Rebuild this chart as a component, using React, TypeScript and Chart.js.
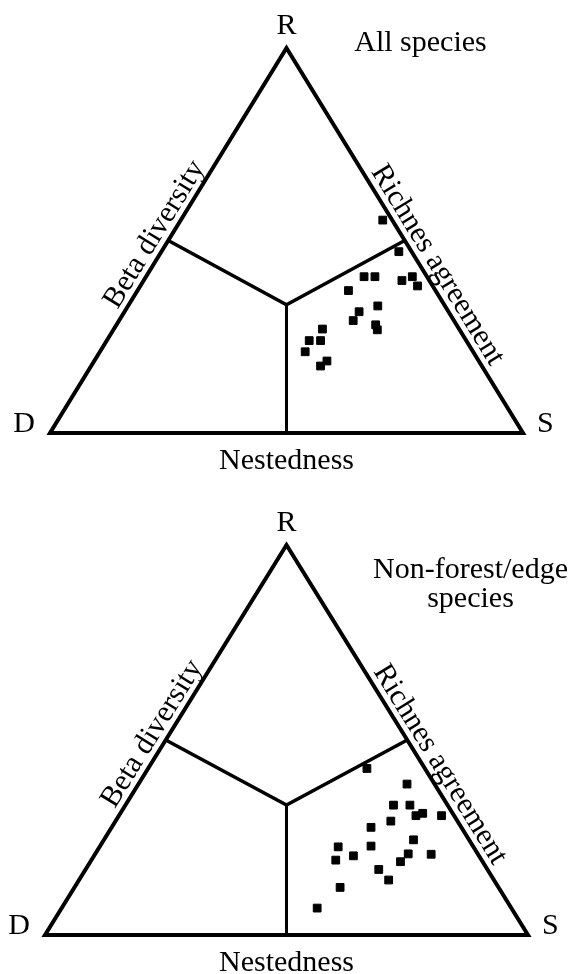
import React, { useEffect, useRef } from "react";
import { Chart, registerables } from "chart.js";

Chart.register(...registerables);

// Vertex and side labels of the ternary diagram
const vertexLabels = ["D", "R", "S"];
const bottomSideLabel = "Nestedness";
const leftSideLabel = "Beta diversity";
const rightSideLabel = "Richnes agreement";

// Panel 1: All species (relative shares D, R, S for each site pair)
const allTitle = ["All species"];
const allR = [0.553, 0.471, 0.406, 0.406, 0.396, 0.406, 0.382, 0.370, 0.315, 0.292, 0.330, 0.281, 0.268, 0.270, 0.240, 0.240, 0.211, 0.187, 0.174];
const allS = [0.427, 0.502, 0.461, 0.484, 0.546, 0.563, 0.586, 0.446, 0.496, 0.495, 0.528, 0.548, 0.558, 0.441, 0.428, 0.452, 0.434, 0.492, 0.485];
const allD = [0.020, 0.027, 0.133, 0.110, 0.058, 0.031, 0.032, 0.184, 0.189, 0.213, 0.142, 0.171, 0.174, 0.289, 0.332, 0.308, 0.355, 0.321, 0.341];

// Panel 2: Non-forest/edge species
const nfTitle = ["Non-forest/edge", "species"];
const nfR = [0.427, 0.387, 0.333, 0.333, 0.306, 0.312, 0.306, 0.292, 0.276, 0.244, 0.228, 0.226, 0.203, 0.192, 0.208, 0.188, 0.207, 0.168, 0.141, 0.122, 0.069];
const nfS = [0.453, 0.556, 0.555, 0.589, 0.615, 0.626, 0.668, 0.570, 0.537, 0.641, 0.561, 0.494, 0.537, 0.506, 0.648, 0.642, 0.696, 0.607, 0.641, 0.550, 0.529];
const nfD = [0.120, 0.057, 0.112, 0.078, 0.079, 0.062, 0.026, 0.138, 0.187, 0.115, 0.211, 0.280, 0.260, 0.302, 0.144, 0.170, 0.097, 0.225, 0.218, 0.328, 0.402];

const FONT = '30px "Liberation Serif", "Times New Roman", serif';

type Tern = [number, number, number]; // D, R, S
function toXY(t: Tern) {
  const sum = t[0] + t[1] + t[2];
  const r = t[1] / sum;
  const s = t[2] / sum;
  return { x: s + r / 2, y: r };
}

const V_D: Tern = [1, 0, 0];
const V_R: Tern = [0, 1, 0];
const V_S: Tern = [0, 0, 1];
const CENTER: Tern = [1, 1, 1];
const MID_DR: Tern = [1, 1, 0];
const MID_RS: Tern = [0, 1, 1];
const MID_DS: Tern = [1, 0, 1];

interface PanelProps {
  title: string[];
  D: number[];
  R: number[];
  S: number[];
  width: number;
  height: number;
  padding: { left: number; right: number; top: number; bottom: number };
  titleOffset: { dx: number; dy: number };
}

const labelPlugin = {
  id: "ternaryLabels",
  afterDraw(chart: any, _args: any, opts: any) {
    const ctx = chart.ctx as CanvasRenderingContext2D;
    const xs = chart.scales.x;
    const ys = chart.scales.y;
    const px = (t: Tern) => {
      const p = toXY(t);
      return { x: xs.getPixelForValue(p.x), y: ys.getPixelForValue(p.y) };
    };
    const d = px(V_D);
    const r = px(V_R);
    const s = px(V_S);
    ctx.save();
    ctx.fillStyle = "#000";
    ctx.font = FONT;
    ctx.textBaseline = "alphabetic";
    // vertex labels
    ctx.textAlign = "center";
    ctx.fillText(vertexLabels[1], r.x, r.y - 14);
    ctx.textAlign = "right";
    ctx.fillText(vertexLabels[0], d.x - 15, d.y - 1);
    ctx.textAlign = "left";
    ctx.fillText(vertexLabels[2], s.x + 14, s.y - 1);
    // bottom side label
    ctx.textAlign = "center";
    ctx.fillText(bottomSideLabel, (d.x + s.x) / 2, d.y + 36);
    // side labels along edges
    const along = (text: string, a: { x: number; y: number }, b: { x: number; y: number }, shift: number, off: number) => {
      const ang = Math.atan2(b.y - a.y, b.x - a.x);
      const len = Math.hypot(b.x - a.x, b.y - a.y);
      const ux = (b.x - a.x) / len;
      const uy = (b.y - a.y) / len;
      const mx = (a.x + b.x) / 2 + ux * shift;
      const my = (a.y + b.y) / 2 + uy * shift;
      ctx.save();
      ctx.translate(mx, my);
      ctx.rotate(ang);
      ctx.textAlign = "center";
      ctx.fillText(text, 0, -off);
      ctx.restore();
    };
    along(leftSideLabel, d, r, opts.leftShift, 7);
    along(rightSideLabel, r, s, opts.rightShift, 7);
    // panel title
    ctx.textAlign = "center";
    const title: string[] = opts.title;
    title.forEach((line, i) => {
      ctx.fillText(line, r.x + opts.titleDx, r.y + opts.titleDy + i * 29);
    });
    ctx.restore();
  },
};

function TernaryPanel(props: PanelProps) {
  const ref = useRef<HTMLCanvasElement | null>(null);
  useEffect(() => {
    if (!ref.current) return;
    const pts = props.D.map((dv, i) => toXY([dv, props.R[i], props.S[i]]));
    const chart = new Chart(ref.current, {
      type: "scatter",
      data: {
        datasets: [
          {
            data: [V_D, V_R, V_S, V_D, V_R].map(toXY),
            showLine: true,
            borderColor: "#000",
            borderWidth: 4,
            borderJoinStyle: "miter",
            pointRadius: 0,
            fill: false,
            clip: false,
          } as any,
          {
            data: [MID_DR, CENTER, MID_RS].map(toXY),
            showLine: true,
            borderColor: "#000",
            borderWidth: 3.5,
            borderJoinStyle: "miter",
            pointRadius: 0,
            fill: false,
            clip: false,
          } as any,
          {
            data: [CENTER, MID_DS].map(toXY),
            showLine: true,
            borderColor: "#000",
            borderWidth: 3,
            pointRadius: 0,
            fill: false,
            clip: false,
          } as any,
          {
            data: pts,
            pointStyle: "rect",
            pointRadius: 5.5,
            backgroundColor: "#000",
            borderColor: "#000",
            borderWidth: 1,
            clip: false,
          } as any,
        ],
      },
      options: {
        responsive: false,
        animation: false,
        events: [],
        layout: { padding: props.padding },
        scales: {
          x: { type: "linear", min: 0, max: 1, display: false },
          y: { type: "linear", min: 0, max: 1, display: false },
        },
        plugins: {
          legend: { display: false },
          tooltip: { enabled: false },
          ternaryLabels: {
            title: props.title,
            titleDx: props.titleOffset.dx,
            titleDy: props.titleOffset.dy,
            leftShift: -2,
            rightShift: 38,
          },
        } as any,
      },
      plugins: [labelPlugin],
    });
    return () => chart.destroy();
  }, []);
  return (
    <canvas
      ref={ref}
      width={props.width}
      height={props.height}
      style={{ display: "block", width: props.width, height: props.height }}
    />
  );
}

export default function App() {
  return (
    <div style={{ position: "absolute", left: 0, top: 0, width: 576, height: 974, background: "#fff" }}>
      <TernaryPanel
        title={allTitle}
        D={allD}
        R={allR}
        S={allS}
        width={576}
        height={487}
        padding={{ left: 50, right: 53, top: 48, bottom: 54 }}
        titleOffset={{ dx: 134, dy: 3 }}
      />
      <TernaryPanel
        title={nfTitle}
        D={nfD}
        R={nfR}
        S={nfS}
        width={576}
        height={487}
        padding={{ left: 45, right: 48, top: 58, bottom: 39 }}
        titleOffset={{ dx: 184, dy: 33 }}
      />
    </div>
  );
}
